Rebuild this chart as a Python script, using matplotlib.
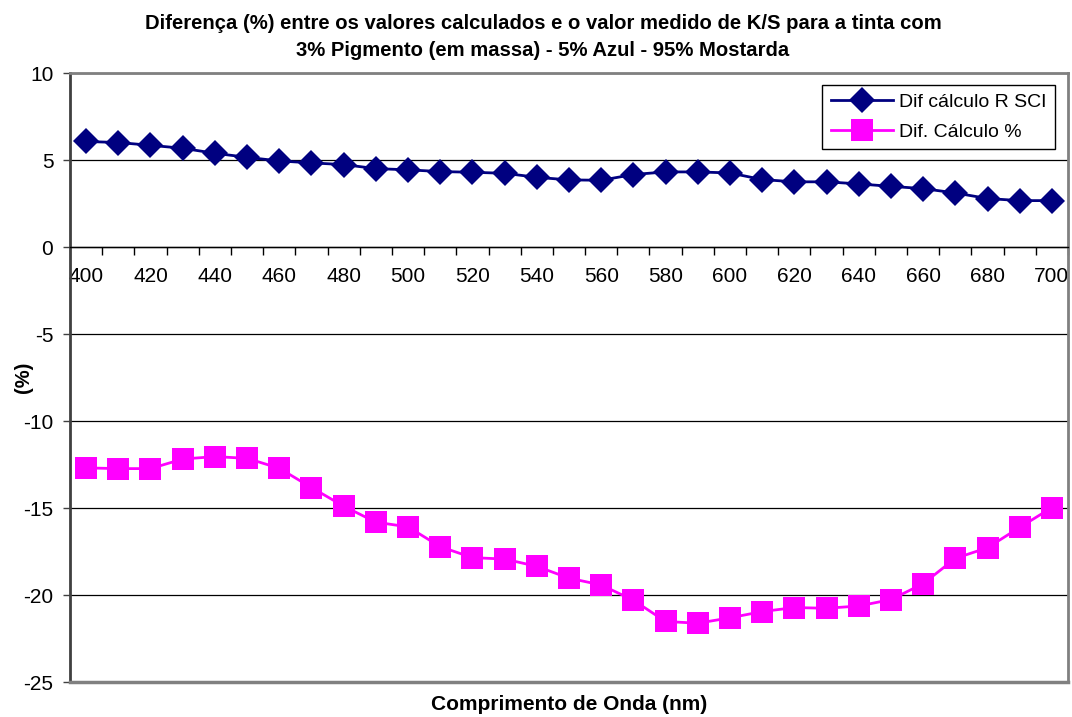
import matplotlib
matplotlib.use("Agg")
import matplotlib.pyplot as plt
from matplotlib.ticker import FixedLocator, NullFormatter, FixedFormatter

plt.rcParams['font.family'] = ['Liberation Sans', 'DejaVu Sans']
plt.rcParams['axes.unicode_minus'] = False

# wavelengths (nm)
comprimento = [400, 410, 420, 430, 440, 450, 460, 470, 480, 490, 500,
               510, 520, 530, 540, 550, 560, 570, 580, 590, 600,
               610, 620, 630, 640, 650, 660, 670, 680, 690, 700]

dif_r_sci = [6.08, 6.02, 5.86, 5.69, 5.40, 5.17, 4.96, 4.85, 4.75, 4.52, 4.45,
             4.35, 4.31, 4.25, 4.02, 3.87, 3.85, 4.18, 4.33, 4.33, 4.27,
             3.89, 3.76, 3.76, 3.64, 3.50, 3.37, 3.12, 2.80, 2.68, 2.68]

dif_calculo = [-12.69, -12.73, -12.73, -12.18, -12.04, -12.14, -12.71, -13.82, -14.89, -15.81, -16.08,
               -17.22, -17.85, -17.93, -18.35, -19.03, -19.42, -20.30, -21.52, -21.62, -21.31,
               -20.95, -20.72, -20.76, -20.63, -20.26, -19.35, -17.89, -17.28, -16.11, -14.97]

titulo = "Diferença (%) entre os valores calculados e o valor medido de K/S para a tinta com\n3% Pigmento (em massa) - 5% Azul - 95% Mostarda"

x = list(range(len(comprimento)))

fig = plt.figure(figsize=(10.72, 7.17), dpi=100)
ax = fig.add_axes([70 / 1072, 1 - 682 / 717, 998 / 1072, (682 - 73.3) / 717])

ax.plot(x, dif_r_sci, color='#000080', lw=2, marker='D', ms=13, mew=0,
        label='Dif cálculo R SCI', zorder=4)
ax.plot(x, dif_calculo, color='#FF00FF', lw=2, marker='s', ms=16, mew=0,
        label='Dif. Cálculo %', zorder=4)

ax.set_xlim(-0.5, len(x) - 0.5)
ax.set_ylim(-25, 10)

# y axis
ax.set_yticks([-25, -20, -15, -10, -5, 0, 5, 10])
ax.tick_params(axis='y', direction='out', length=5, width=1, pad=7,
               labelsize=15, color='#404040')
ax.yaxis.grid(True, color='black', lw=0.9)

# x axis sits on y=0, bottom border drawn separately
ax.spines['bottom'].set_position(('data', 0))
ax.spines['bottom'].set_color('black')
ax.spines['bottom'].set_linewidth(1)
ax.axhline(-25, color='#808080', lw=2.5, clip_on=False, zorder=3)
ax.spines['top'].set_color('#808080')
ax.spines['top'].set_linewidth(2)
ax.spines['right'].set_color('#808080')
ax.spines['right'].set_linewidth(2)
ax.spines['left'].set_color('#404040')
ax.spines['left'].set_linewidth(2)

ax.xaxis.set_major_locator(FixedLocator([i + 0.5 for i in x]))
ax.xaxis.set_major_formatter(NullFormatter())
ax.xaxis.set_minor_locator(FixedLocator(x[::2]))
ax.xaxis.set_minor_formatter(FixedFormatter([str(c) for c in comprimento[::2]]))
ax.tick_params(axis='x', which='major', direction='out', length=6, width=1, color='black')
ax.tick_params(axis='x', which='minor', length=0, pad=14, labelsize=15)

fig.text(23 / 1072, 1 - 377 / 717, '(%)', rotation=90, ha='center', va='center',
         fontsize=14.5, fontweight='bold')
fig.text(569 / 1072, 1 - 705 / 717, 'Comprimento de Onda (nm)', ha='center', va='center',
         fontsize=15, fontweight='bold')
fig.text(543 / 1072, 1 - 14 / 717, titulo, ha='center', va='top', fontsize=14.6,
         fontweight='bold', linespacing=1.55)

leg = ax.legend(loc='upper right', bbox_to_anchor=(0.987, 0.981), borderaxespad=0,
                fontsize=14, fancybox=False, framealpha=1, edgecolor='black',
                handlelength=3.2, handletextpad=0.3, borderpad=0.45, labelspacing=0.6)
leg.get_frame().set_linewidth(1)

fig.savefig('out.png', dpi=100)
